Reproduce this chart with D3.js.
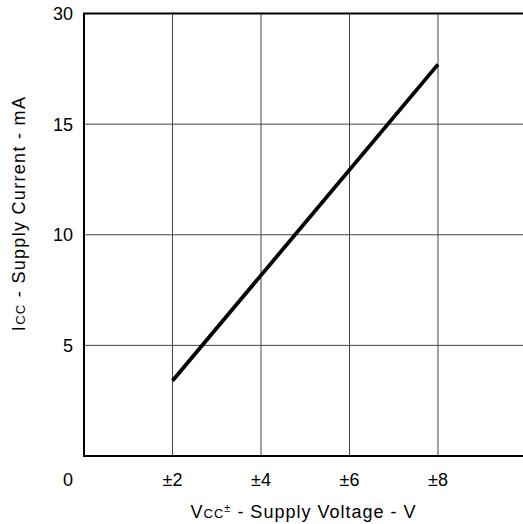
<!DOCTYPE html>
<html>
<head>
<meta charset="utf-8">
<script src="https://cdn.jsdelivr.net/npm/d3@7"></script>
<style>
  html, body { margin: 0; padding: 0; background: #fff; }
  svg { display: block; font-family: "Liberation Sans", Arial, Helvetica, sans-serif; }
</style>
</head>
<body>
<svg id="chart" width="523" height="524"></svg>
<script>
// Supply current vs. supply voltage
const voltage = [2, 8];          // ±V
const current = [3.4, 17.7];     // mA

const xTickValues = [0, 2, 4, 6, 8, 10];
const xTickLabels = ["", "±2", "±4", "±6", "±8", ""];
const yTickValues = [0, 5, 10, 15, 20];
const yTickLabels = ["0", "5", "10", "15", "30"];

const svg = d3.select("#chart");
const frame = { left: 84, top: 13.5, right: 526.5, bottom: 456 };
const fs = 18;

const x = d3.scaleLinear().domain([0, 10]).range([frame.left, frame.right]);
const y = d3.scaleLinear().domain([0, 20]).range([frame.bottom, frame.top]);

// vertical grid lines
svg.append("g")
  .selectAll("line")
  .data(xTickValues.slice(1, -1))
  .join("line")
  .attr("x1", d => x(d)).attr("x2", d => x(d))
  .attr("y1", y(0)).attr("y2", y(20))
  .attr("stroke", "#444").attr("stroke-width", 1);

// horizontal grid lines
svg.append("g")
  .selectAll("line")
  .data(yTickValues.slice(1, -1))
  .join("line")
  .attr("x1", x(0)).attr("x2", x(10))
  .attr("y1", d => y(d)).attr("y2", d => y(d))
  .attr("stroke", "#444").attr("stroke-width", 1);

// frame
svg.append("rect")
  .attr("x", x(0)).attr("y", y(20))
  .attr("width", x(10) - x(0)).attr("height", y(0) - y(20))
  .attr("fill", "none").attr("stroke", "#000").attr("stroke-width", 2);

// data line
const pts = voltage.map((v, i) => [v, current[i]]);
svg.append("path")
  .datum(pts)
  .attr("d", d3.line().x(d => x(d[0])).y(d => y(d[1])))
  .attr("fill", "none").attr("stroke", "#000").attr("stroke-width", 3.8);

// x tick labels
svg.append("g")
  .selectAll("text")
  .data(xTickValues.map((v, i) => ({ v, t: xTickLabels[i] })).filter(d => d.t))
  .join("text")
  .attr("x", d => x(d.v)).attr("y", 486)
  .attr("text-anchor", "middle")
  .attr("font-size", fs).attr("fill", "#000")
  .text(d => d.t);

// y tick labels (origin label sits on the x label row)
svg.append("g")
  .selectAll("text")
  .data(yTickValues.map((v, i) => ({ v, t: yTickLabels[i] })))
  .join("text")
  .attr("x", 73)
  .attr("y", d => d.v === 0 ? 486 : y(d.v) + 6.5)
  .attr("text-anchor", "end")
  .attr("font-size", fs).attr("fill", "#000")
  .text(d => d.t);

// x axis title
const xt = svg.append("text")
  .attr("x", 303.5).attr("y", 518)
  .attr("text-anchor", "middle")
  .attr("letter-spacing", 1.0)
  .attr("font-size", fs).attr("fill", "#000");
xt.append("tspan").text("V");
xt.append("tspan").attr("font-size", 13).text("CC");
xt.append("tspan").attr("font-size", 11).attr("dy", -6).text("±");
xt.append("tspan").attr("dy", 6).text(" - Supply Voltage - V");

// y axis title
const yt = svg.append("text")
  .attr("transform", "translate(25,213.5) rotate(-90)")
  .attr("text-anchor", "middle")
  .attr("letter-spacing", 1.3)
  .attr("font-size", fs).attr("fill", "#000");
yt.append("tspan").text("I");
yt.append("tspan").attr("font-size", 13).text("CC");
yt.append("tspan").text(" - Supply Current - mA");
</script>
</body>
</html>
